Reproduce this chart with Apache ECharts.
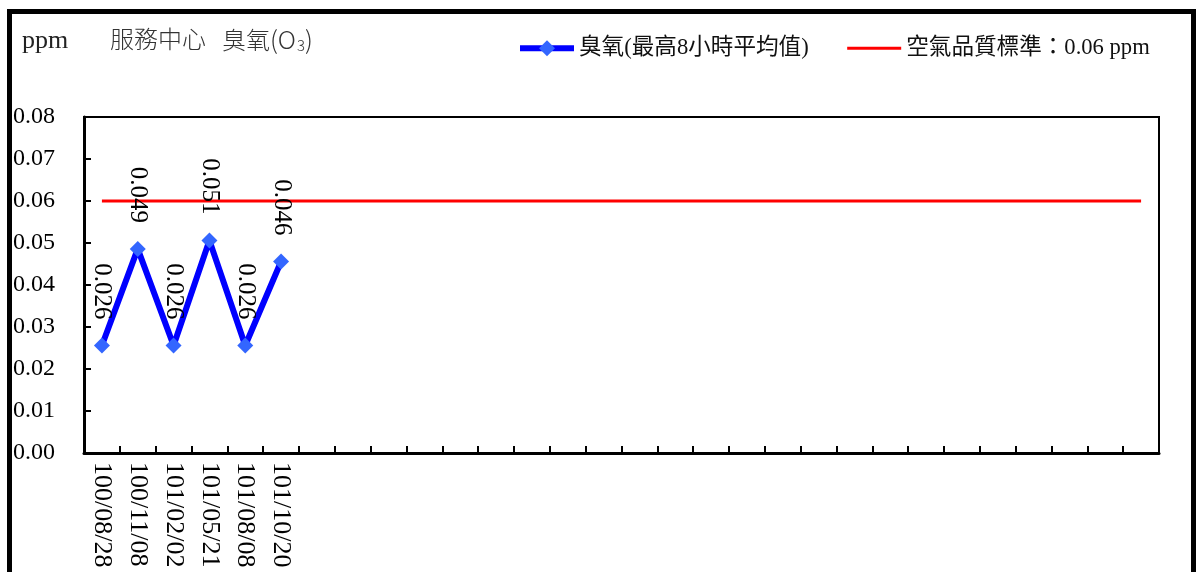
<!DOCTYPE html>
<html>
<head>
<meta charset="utf-8">
<script src="https://cdn.jsdelivr.net/npm/echarts@6/dist/echarts.min.js"></script>
<style>
  html, body { margin: 0; padding: 0; background: #fff; }
  #main { width: 1196px; height: 572px; }
</style>
</head>
<body>
<div id="main"></div>
<script>
// 日期 (共30格，後面空白)
const dates = ['100/08/28', '100/11/08', '101/02/02', '101/05/21', '101/08/08', '101/10/20',
    '', '', '', '', '', '', '', '', '', '', '', '', '', '', '', '', '', '', '', '', '', '', '', '']
// 臭氧最高8小時平均值
const ozone = [0.0256, 0.0486, 0.0256, 0.0506, 0.0256, 0.0456]
// 空氣品質標準
const standard = 0.06
const yTicks = { min: 0, max: 0.08, interval: 0.01 }

const FONT = '"Liberation Serif", "Noto Sans CJK TC", serif'
const CJK = '"Noto Sans CJK TC", sans-serif'

let chart = echarts.init(document.getElementById('main'))

let option = {
    animation: false,
    backgroundColor: '#fff',
    textStyle: { fontFamily: FONT, color: '#000' },
    graphic: [
        // 外框
        {
            type: 'rect',
            shape: { x: 9.5, y: 11.5, width: 1184, height: 640 },
            style: { fill: null, stroke: '#000', lineWidth: 5 },
            silent: true
        },
        {
            type: 'text',
            left: 22, top: 28,
            style: { text: 'ppm', font: '26px ' + FONT, fill: '#222' }
        },
        {
            type: 'text',
            left: 110, top: 27,
            style: { text: '服務中心', font: '300 24px ' + CJK, fill: '#333' }
        },
        {
            type: 'text',
            left: 222, top: 27,
            style: {
                text: '臭氧{p|(O}{s|3}{p|)}',
                font: '300 24px ' + CJK,
                fill: '#333',
                rich: {
                    p: { fontSize: 25, fontWeight: 300, fill: '#333', fontFamily: CJK },
                    s: { fontSize: 15, fontWeight: 300, padding: [12, 0, 0, 1], fill: '#333', fontFamily: CJK }
                }
            }
        }
    ],
    legend: {
        left: 512, top: 32,
        itemWidth: 54, itemHeight: 20, itemGap: 37,
        textStyle: { fontSize: 22.6, fontFamily: FONT, color: '#111' },
        lineStyle: { width: 'inherit' },
        data: [
            { name: '臭氧(最高8小時平均值)' },
            { name: '空氣品質標準：0.06 ppm', itemStyle: { opacity: 0 } }
        ]
    },
    grid: {
        left: 84, right: 37, top: 117, bottom: 119,
        show: true, borderColor: '#000', borderWidth: 2,
        containLabel: false
    },
    xAxis: {
        type: 'category',
        data: dates,
        boundaryGap: true,
        axisLine: { lineStyle: { color: '#000', width: 3 } },
        axisTick: { show: true, inside: true, interval: 0, length: 7, lineStyle: { color: '#000', width: 2 } },
        axisLabel: {
            rotate: -90, margin: 9, interval: 0,
            fontSize: 26, fontFamily: FONT, color: '#000'
        }
    },
    yAxis: {
        type: 'value',
        min: yTicks.min, max: yTicks.max, interval: yTicks.interval,
        splitLine: { show: false },
        axisLine: { show: true, lineStyle: { color: '#000', width: 3 } },
        axisTick: { show: true, inside: true, length: 7, lineStyle: { color: '#000', width: 2 } },
        axisLabel: {
            margin: 29, fontSize: 24, fontFamily: FONT, color: '#000',
            formatter: v => v.toFixed(2)
        }
    },
    series: [
        {
            name: '臭氧(最高8小時平均值)',
            type: 'line',
            data: ozone,
            symbol: 'diamond',
            symbolSize: 16,
            lineStyle: { color: '#0000ff', width: 6 },
            itemStyle: { color: '#3366ff' },
            z: 3,
            label: {
                show: true,
                position: 'top',
                distance: 18,
                rotate: -90,
                align: 'right',
                verticalAlign: 'middle',
                fontSize: 25, fontFamily: FONT, color: '#000',
                formatter: p => p.value.toFixed(3)
            }
        },
        {
            name: '空氣品質標準：0.06 ppm',
            type: 'line',
            data: dates.map(() => standard),
            symbol: 'none',
            lineStyle: { color: '#ff0000', width: 3 },
            itemStyle: { color: '#ff0000' },
            z: 2
        }
    ]
}

chart.setOption(option)
</script>
</body>
</html>
